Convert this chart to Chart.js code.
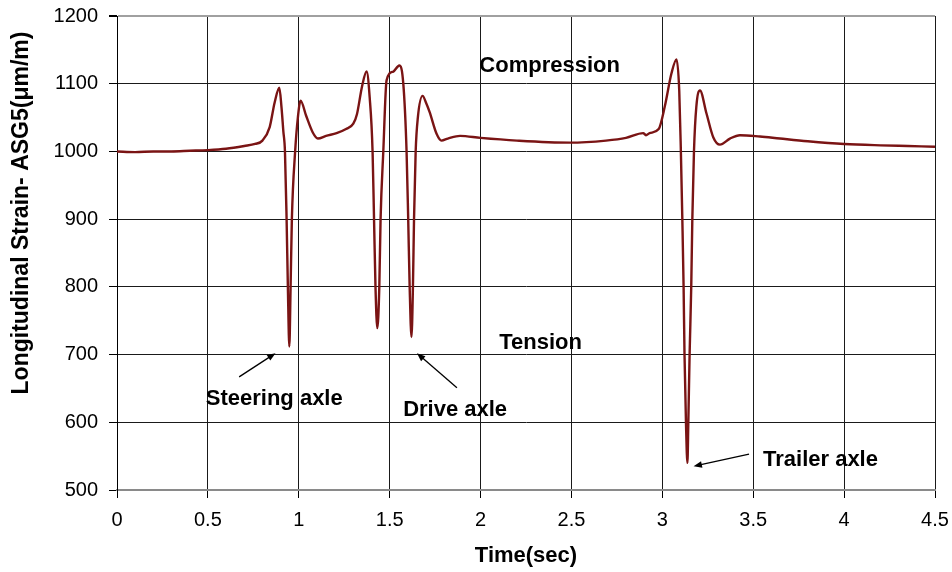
<!DOCTYPE html>
<html>
<head>
<meta charset="utf-8">
<title>Longitudinal Strain ASG5</title>
<script src="https://cdn.jsdelivr.net/npm/chart.js@4.4.1/dist/chart.umd.min.js"></script>
<style>
  html, body { margin: 0; padding: 0; background: #fff; }
  #wrap { width: 952px; height: 572px; }
</style>
</head>
<body>
<div id="wrap"><canvas id="strainChart" width="952" height="572"></canvas></div>
<script>
// Strain gauge ASG5 trace, read from the recorder output
const timeSec = [
  0, 0.1, 0.2, 0.3, 0.4, 0.5, 0.6, 0.7, 0.76, 0.8,
  0.84, 0.867, 0.893, 0.905, 0.915, 0.924, 0.933, 0.94, 0.948, 0.955,
  0.962, 0.98, 0.995, 1.01, 1.04, 1.077, 1.105, 1.15, 1.208, 1.26,
  1.3, 1.32, 1.348, 1.373, 1.39, 1.406, 1.414, 1.422, 1.432, 1.443,
  1.45, 1.465, 1.483, 1.52, 1.553, 1.575, 1.593, 1.602, 1.61, 1.62,
  1.628, 1.634, 1.643, 1.655, 1.681, 1.7, 1.72, 1.758, 1.785, 1.82,
  1.887, 2.0, 2.2, 2.49, 2.69, 2.8, 2.895, 2.91, 2.93, 2.98,
  3.014, 3.05, 3.078, 3.093, 3.102, 3.11, 3.117, 3.122, 3.13, 3.138,
  3.143, 3.15, 3.159, 3.165, 3.174, 3.187, 3.207, 3.243, 3.28, 3.317,
  3.372, 3.427, 3.537, 3.647, 3.8, 4.0, 4.2, 4.35, 4.5
];
const strain = [
  1000, 999, 1000, 1000, 1001, 1002, 1004, 1008, 1011, 1016,
  1036, 1072, 1094, 1065, 1030, 1000, 900, 800, 712, 800,
  900, 1000, 1050, 1075, 1053, 1028, 1019, 1023, 1027, 1033,
  1041, 1055, 1096, 1118, 1080, 1000, 900, 800, 739, 800,
  900, 1000, 1105, 1118, 1127, 1100, 1000, 900, 800, 726,
  800, 900, 1000, 1050, 1082, 1072, 1058, 1026, 1016, 1019,
  1023, 1020, 1016, 1013, 1016, 1020, 1027, 1024, 1027, 1033,
  1067, 1115, 1136, 1090, 1000, 900, 800, 700, 600, 540,
  600, 700, 800, 900, 1000, 1066, 1090, 1056, 1021, 1010,
  1019, 1024, 1022, 1019, 1015, 1011, 1009, 1008, 1007
];

// axis ranges
const xTicks = { min: 0, max: 4.5, step: 0.5 };
const yTicks = { min: 500, max: 1200, step: 100 };

// text notes placed in data units: [label, t, value]
const notes = [
  ['Compression', 2.38, 1126],
  ['Tension', 2.33, 717],
  ['Steering axle', 0.865, 634],
  ['Drive axle', 1.86, 618],
  ['Trailer axle', 3.87, 544]
];
// arrows: [fromT, fromV, toT, toV]
const arrows = [
  [0.672, 667, 0.872, 702],
  [1.87, 651, 1.65, 702],
  [3.477, 553, 3.172, 535]
];

const FONT = "'Liberation Sans', Arial, sans-serif";
const LINE_RED = '#7a1414';

const points = timeSec.map((t, i) => ({ x: t, y: strain[i] }));

function drawArrow(ctx, x1, y1, x2, y2) {
  const ang = Math.atan2(y2 - y1, x2 - x1);
  const head = 9, spread = 0.38;
  ctx.beginPath();
  ctx.moveTo(x1, y1);
  ctx.lineTo(x2 - Math.cos(ang) * head * 0.7, y2 - Math.sin(ang) * head * 0.7);
  ctx.stroke();
  ctx.beginPath();
  ctx.moveTo(x2, y2);
  ctx.lineTo(x2 - head * Math.cos(ang - spread), y2 - head * Math.sin(ang - spread));
  ctx.lineTo(x2 - head * Math.cos(ang + spread), y2 - head * Math.sin(ang + spread));
  ctx.closePath();
  ctx.fill();
}

const labelsPlugin = {
  id: 'strainLabels',
  afterDraw(chart) {
    const { ctx, scales: { x, y } } = chart;
    ctx.save();
    ctx.fillStyle = '#000';
    ctx.strokeStyle = '#000';
    ctx.lineWidth = 1.3;
    ctx.font = `bold 22px ${FONT}`;
    ctx.textAlign = 'center';
    ctx.textBaseline = 'middle';
    notes.forEach(([txt, t, v]) => ctx.fillText(txt, x.getPixelForValue(t), y.getPixelForValue(v)));
    arrows.forEach(([t1, v1, t2, v2]) => drawArrow(ctx,
      x.getPixelForValue(t1), y.getPixelForValue(v1),
      x.getPixelForValue(t2), y.getPixelForValue(v2)));

    // vertical axis title sits a little above the middle of the axis
    ctx.font = `bold 23px ${FONT}`;
    ctx.translate(22, 213);
    ctx.rotate(-Math.PI / 2);
    ctx.fillText('Longitudinal Strain- ASG5(\u03bcm/m)', 0, 0);
    ctx.restore();
  }
};

new Chart(document.getElementById('strainChart'), {
  type: 'line',
  data: {
    datasets: [{
      label: 'ASG5',
      data: points,
      borderColor: LINE_RED,
      borderWidth: 2.4,
      pointRadius: 0,
      cubicInterpolationMode: 'monotone',
      fill: false
    }]
  },
  options: {
    responsive: false,
    animation: false,
    layout: { padding: { top: 16, right: 17, left: 0, bottom: 0 } },
    plugins: {
      legend: { display: false },
      tooltip: { enabled: false }
    },
    scales: {
      x: {
        type: 'linear',
        min: xTicks.min,
        max: xTicks.max,
        afterFit: s => {
          s.height = 82;
          s.paddingLeft = 0;
          s.paddingRight = 0;
        },
        ticks: {
          stepSize: xTicks.step,
          color: '#000',
          padding: 10,
          maxRotation: 0,
          callback: v => String(v),
          font: { family: FONT, size: 20 }
        },
        grid: { color: '#1a1a1a', lineWidth: 1, tickLength: 8, tickColor: '#000' },
        border: { color: '#8a8a8a', width: 2 },
        title: {
          display: true,
          text: 'Time(sec)',
          color: '#000',
          padding: { top: 3, bottom: 3 },
          font: { family: FONT, size: 22, weight: 'bold' }
        }
      },
      y: {
        min: yTicks.min,
        max: yTicks.max,
        afterFit: s => {
          s.width = 117;
          s.paddingTop = 0;
          s.paddingBottom = 0;
        },
        ticks: {
          stepSize: yTicks.step,
          color: '#000',
          padding: 11,
          callback: v => String(v),
          font: { family: FONT, size: 20 }
        },
        grid: {
          color: c => (c.tick && c.tick.value === yTicks.max ? '#a0a0a0' : '#1a1a1a'),
          lineWidth: c => (c.tick && c.tick.value === yTicks.max ? 2 : 1),
          tickLength: 8,
          tickColor: '#000'
        },
        border: { color: '#000', width: 1 }
      }
    }
  },
  plugins: [labelsPlugin]
});
</script>
</body>
</html>
